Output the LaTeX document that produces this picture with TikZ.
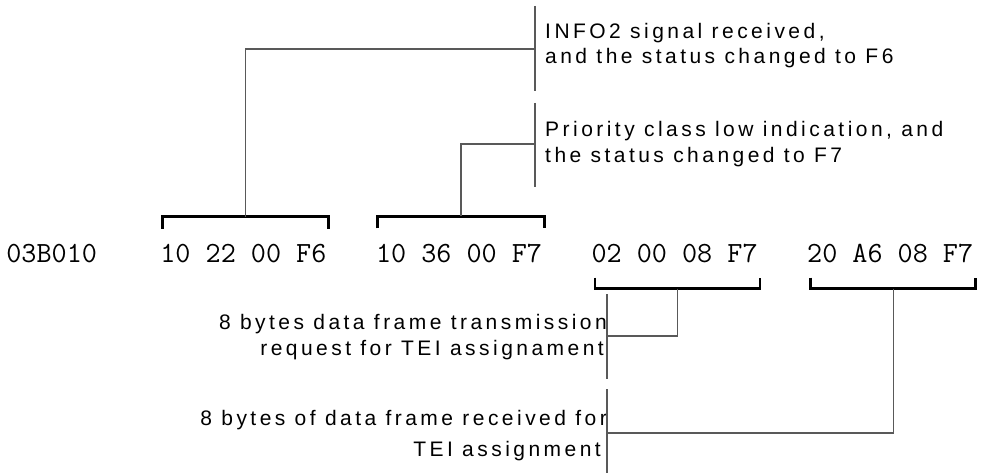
\documentclass[tikz,border=0pt]{standalone}
\usepackage{fontspec}
\usetikzlibrary{calc}
\newfontfamily\annfont[LetterSpace=16.5]{Liberation Sans}
\begin{document}
\begin{tikzpicture}[x=1pt,y=-1pt,
  hex/.style={font=\ttfamily\fontsize{29.3}{30}\selectfont, inner sep=0pt, anchor=base west},
  ann/.style={inner sep=0pt, font=\annfont\fontsize{21}{#1}\selectfont},
  brk/.style={line width=2.8pt, line cap=butt, line join=miter},
  lead/.style={line width=1.2pt, draw=black!65},
]
\useasboundingbox (0,0) rectangle (984,473);

% hex row
\node[hex] (addr) at (6.2,262) {03B010};
\node[hex] (g1) at (160.2,262) {10 22 00 F6};
\node[hex] (g2) at (375.8,262) {10 36 00 F7};
\node[hex] (g3) at (591.4,262) {02 00 08 F7};
\node[hex] (g4) at (807,262) {20 A6 08 F7};

% brackets
\draw[brk] ($(g1.north west)+(2,-15)$) -- ++(0,-12) -| ($(g1.north east)+(2,-15)$);
\draw[brk] ($(g2.north west)+(2,-15)$) -- ++(0,-12) -| ($(g2.north east)+(2,-15)$);
\draw[brk] ($(g3.south west)+(3.5,15)$) -- ++(0,11) -| ($(g3.south east)+(2.3,15)$);
\draw[brk] ($(g4.south west)+(3.5,15)$) -- ++(0,11) -| ($(g4.south east)+(2.3,15)$);

\coordinate (c1) at ($(g1.north)+(2,-27)$);
\coordinate (c2) at ($(g2.north)+(2,-27)$);
\coordinate (c3) at ($(g3.south)+(3,26)$);
\coordinate (c4) at ($(g4.south)+(3,26)$);

% annotations
\node[ann=25, anchor=base west] (info) at (545,39)
  {\begin{tabular}[t]{@{}l@{}}INFO2 signal received,\\and the status changed to F6\end{tabular}};
\node[ann=26, anchor=base west] (prio) at (545,137)
  {\begin{tabular}[t]{@{}l@{}}Priority class low indication, and\\the status changed to F7\end{tabular}};
\node[ann=26, anchor=base east] (req) at (607,329)
  {\begin{tabular}[t]{@{}r@{}}8 bytes data frame transmission\\request for TEI assignament\hspace*{3pt}\end{tabular}};
\node[ann=31, anchor=base east] (recv) at (607,425)
  {\begin{tabular}[t]{@{}r@{}}8 bytes of data frame received for\\TEI assignment\hspace*{6pt}\end{tabular}};

% annotation bars
\coordinate (a1t) at (535,6);   \coordinate (a1b) at (535,91);  \coordinate (a1) at (535,49);
\coordinate (a2t) at (535,103); \coordinate (a2b) at (535,187); \coordinate (a2) at (535,144);
\coordinate (a3t) at (607,294); \coordinate (a3b) at (607,379); \coordinate (a3) at (607,336);
\coordinate (a4t) at (607,389); \coordinate (a4b) at (607,473); \coordinate (a4) at (607,433);
\draw[lead] (a1t) -- (a1b);
\draw[lead] (a2t) -- (a2b);
\draw[lead] (a3t) -- (a3b);
\draw[lead] (a4t) -- (a4b);

% leaders
\draw[lead] (c1) |- (a1);
\draw[lead] (c2) |- (a2);
\draw[lead] (c3) |- (a3);
\draw[lead] (c4) |- (a4);
\end{tikzpicture}
\end{document}
